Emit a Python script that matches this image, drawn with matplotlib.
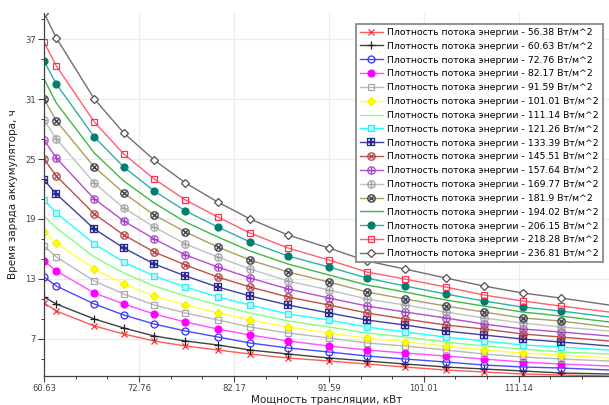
import numpy as np
import matplotlib
matplotlib.use('Agg')
import matplotlib.pyplot as plt
from matplotlib.ticker import MultipleLocator, FixedLocator

# Posiciones de los puntos sobre el eje X (en unidades de division del eje)
x_puntos = [0, 0.13, 0.53, 0.84, 1.16, 1.49, 1.83, 2.17, 2.57, 3.0, 3.4, 3.8, 4.23, 4.63, 5.04, 5.44, 5.95]

# Etiquetas del eje X
x_etiquetas = ['60.63', '72.76', '82.17', '91.59', '101.01', '111.14']

# Plotnost' potoka (leyenda)
flujos = ['56.38', '60.63', '72.76', '82.17', '91.59', '101.01', '111.14', '121.26', '133.39',
          '145.51', '157.64', '169.77', '181.9', '194.02', '206.15', '218.28', '236.81']

# Tiempo de carga, h
t_56_38 = [10.6, 9.8, 8.3, 7.5, 6.8, 6.3, 5.9, 5.5, 5.1, 4.8, 4.5, 4.2, 3.9, 3.7, 3.5, 3.4, 3.3]
t_60_63 = [11.2, 10.5, 9.0, 8.1, 7.3, 6.8, 6.4, 5.9, 5.5, 5.1, 4.8, 4.5, 4.2, 4.0, 3.8, 3.6, 3.5]
t_72_76 = [13.2, 12.3, 10.5, 9.4, 8.5, 7.8, 7.2, 6.6, 6.1, 5.7, 5.3, 5.0, 4.7, 4.4, 4.2, 4.1, 3.9]
t_82_17 = [14.8, 13.8, 11.6, 10.5, 9.5, 8.7, 8.0, 7.4, 6.8, 6.3, 5.9, 5.6, 5.3, 5.0, 4.7, 4.5, 4.3]
t_91_59 = [16.3, 15.2, 12.8, 11.5, 10.4, 9.6, 8.9, 8.2, 7.6, 7.1, 6.6, 6.3, 5.9, 5.5, 5.2, 5.0, 4.8]
t_101_01 = [17.7, 16.6, 14.0, 12.5, 11.3, 10.4, 9.6, 8.9, 8.2, 7.6, 7.1, 6.7, 6.3, 5.9, 5.6, 5.4, 5.1]
t_111_14 = [19.3, 18.1, 15.2, 13.6, 12.3, 11.3, 10.4, 9.6, 8.8, 8.2, 7.6, 7.2, 6.7, 6.3, 6.0, 5.7, 5.5]
t_121_26 = [20.9, 19.6, 16.5, 14.7, 13.3, 12.2, 11.2, 10.4, 9.5, 8.9, 8.2, 7.7, 7.2, 6.8, 6.4, 6.2, 5.9]
t_133_39 = [22.9, 21.5, 18.0, 16.1, 14.5, 13.3, 12.2, 11.3, 10.4, 9.6, 8.9, 8.4, 7.8, 7.4, 7.0, 6.7, 6.3]
t_145_51 = [25.0, 23.3, 19.5, 17.4, 15.7, 14.4, 13.2, 12.2, 11.2, 10.4, 9.6, 9.0, 8.4, 8.0, 7.5, 7.2, 6.8]
t_157_64 = [26.9, 25.1, 21.0, 18.8, 17.0, 15.4, 14.2, 13.1, 12.0, 11.1, 10.3, 9.7, 9.1, 8.5, 8.0, 7.7, 7.3]
t_169_77 = [28.9, 27.0, 22.6, 20.1, 18.2, 16.5, 15.2, 14.0, 12.8, 11.9, 11.0, 10.4, 9.7, 9.1, 8.6, 8.2, 7.8]
t_181_9 = [31.0, 28.8, 24.2, 21.6, 19.4, 17.7, 16.2, 14.9, 13.7, 12.7, 11.7, 11.0, 10.3, 9.7, 9.1, 8.8, 8.2]
t_194_02 = [33.0, 30.6, 25.6, 22.8, 20.6, 18.7, 17.2, 15.8, 14.5, 13.4, 12.4, 11.7, 10.9, 10.3, 9.7, 9.3, 8.7]
t_206_15 = [34.8, 32.5, 27.2, 24.2, 21.8, 19.8, 18.2, 16.7, 15.3, 14.2, 13.1, 12.3, 11.5, 10.8, 10.2, 9.8, 9.2]
t_218_28 = [36.7, 34.3, 28.7, 25.5, 23.0, 20.9, 19.2, 17.6, 16.1, 14.9, 13.7, 13.0, 12.2, 11.4, 10.8, 10.3, 9.7]
t_236_81 = [39.6, 37.1, 31.0, 27.6, 24.9, 22.6, 20.7, 19.0, 17.4, 16.1, 14.8, 14.0, 13.1, 12.3, 11.6, 11.1, 10.4]

series = [t_56_38, t_60_63, t_72_76, t_82_17, t_91_59, t_101_01, t_111_14, t_121_26, t_133_39,
          t_145_51, t_157_64, t_169_77, t_181_9, t_194_02, t_206_15, t_218_28, t_236_81]

# Estilos: (color linea, marcador, color borde, color relleno, tamano, grosor borde)
estilos = [
    ('#ff5a5a', 'x', '#ff3030', 'none', 5, 0.9),
    ('#404040', '+', '#202020', 'none', 6, 0.9),
    ('#4a4aff', 'o', '#3030ff', 'none', 5, 0.9),
    ('#ff50ff', 'o', '#ff00ff', '#ff00ff', 5, 0.9),
    ('#b8b8b8', 's', '#a8a8a8', 'none', 5, 0.9),
    ('#ffff40', 'D', '#f0f000', '#ffff00', 4, 0.9),
    ('#80ff80', None, None, None, 0, 0),
    ('#20ffff', 's', '#40e8e8', '#a8ffff', 5, 0.9),
    ('#4040a0', '$\\boxplus$', '#2a2a90', '#2a2a90', 6, 0.2),
    ('#c05050', '$\\otimes$', '#b04040', '#b04040', 6, 0.2),
    ('#b050d0', '$\\oplus$', '#a040c0', '#a040c0', 6, 0.2),
    ('#c0c0c0', '$\\oplus$', '#a0a0a0', '#a0a0a0', 6, 0.2),
    ('#a8a060', '$\\otimes$', '#303040', '#303040', 6, 0.2),
    ('#40b840', None, None, None, 0, 0),
    ('#30b0a0', 'o', '#007f70', '#007f70', 5, 0.9),
    ('#ff6070', 's', '#ff3050', 'none', 5, 0.9),
    ('#707070', 'D', '#505050', 'white', 4, 0.9),
]

fig = plt.figure(figsize=(6.09, 4.05), dpi=100)
ax = fig.add_axes([44 / 609, 1 - 376 / 405, 1 - 44 / 609, 363 / 405])

for i in range(len(series)):
    color, marcador, borde, relleno, tam, grosor = estilos[i]
    etiqueta = 'Плотность потока энергии - ' + flujos[i] + ' Вт/м^2'
    if marcador is None:
        ax.plot(x_puntos, series[i], color=color, lw=1.0, label=etiqueta)
    else:
        ax.plot(x_puntos, series[i], color=color, lw=1.0, marker=marcador,
                markersize=tam, markeredgecolor=borde, markerfacecolor=relleno,
                markeredgewidth=grosor, markevery=list(range(len(x_puntos) - 1)), label=etiqueta)

# Ejes
ax.set_xlim(0, 5.95)
ax.set_ylim(3.3, 39.6)
ax.xaxis.set_major_locator(FixedLocator(range(len(x_etiquetas))))
ax.set_xticklabels(x_etiquetas)
ax.xaxis.set_minor_locator(MultipleLocator(1 / 3))
ax.yaxis.set_major_locator(MultipleLocator(6, offset=1))
ax.yaxis.set_minor_locator(MultipleLocator(2, offset=1))
ax.tick_params(which='major', labelsize=6, colors='#404040', length=4, width=0.8, pad=2)
ax.tick_params(which='minor', length=2, width=0.7, colors='#404040')
ax.grid(True, which='major', color='#ececec', lw=0.8)
ax.set_axisbelow(True)

for lado in ['top', 'right']:
    ax.spines[lado].set_visible(False)
for lado in ['left', 'bottom']:
    ax.spines[lado].set_color('#404040')
    ax.spines[lado].set_linewidth(0.9)

ax.set_xlabel('Мощность трансляции, кВт', fontsize=7.5, color='#202020', labelpad=1)
ax.set_ylabel('Время заряда аккумулятора, ч', fontsize=7.5, color='#202020', labelpad=5)

# Leyenda
leg = ax.legend(loc='upper left', bbox_to_anchor=(351 / 609, 1 - 19 / 405), bbox_transform=fig.transFigure,
                fontsize=6.7, frameon=True, fancybox=False, framealpha=1, edgecolor='#8a8a8a',
                borderpad=0.45, labelspacing=0.52, handlelength=2.5, handletextpad=0.4)
leg.get_frame().set_linewidth(1.3)

plt.savefig('out.png', dpi=100)
plt.close()
